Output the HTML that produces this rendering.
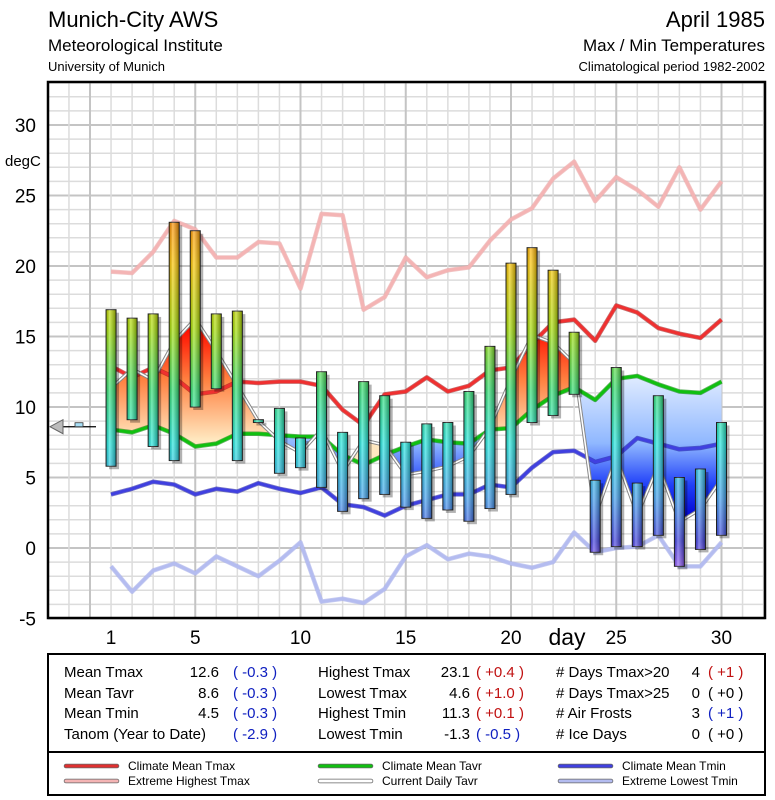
<!DOCTYPE html>
<html><head><meta charset="utf-8"><style>
html,body{margin:0;padding:0;background:#fff;}
svg{display:block;font-family:"Liberation Sans",sans-serif;}
</style></head><body>
<svg id="chart" width="775" height="800" viewBox="0 0 775 800" xmlns="http://www.w3.org/2000/svg">
<defs>
<linearGradient id="barGrad" gradientUnits="userSpaceOnUse" x1="0" y1="210" x2="0" y2="570">
<stop offset="0" stop-color="#ff8000"/>
<stop offset="0.15" stop-color="#ffc800"/>
<stop offset="0.33" stop-color="#a8e000"/>
<stop offset="0.5" stop-color="#30e070"/>
<stop offset="0.65" stop-color="#20e8e0"/>
<stop offset="0.8" stop-color="#40a0f0"/>
<stop offset="0.92" stop-color="#4040e0"/>
<stop offset="1" stop-color="#a060ff"/>
</linearGradient>
<linearGradient id="barShade" x1="0" y1="0" x2="1" y2="0">
<stop offset="0" stop-color="#000" stop-opacity="0.15"/>
<stop offset="0.35" stop-color="#fff" stop-opacity="0.35"/>
<stop offset="1" stop-color="#000" stop-opacity="0.35"/>
</linearGradient>
<linearGradient id="warmGrad" gradientUnits="userSpaceOnUse" x1="0" y1="330" x2="0" y2="440">
<stop offset="0" stop-color="#ff1000"/>
<stop offset="0.45" stop-color="#ff8040"/>
<stop offset="1" stop-color="#ffe8c0"/>
</linearGradient>
<linearGradient id="coldGrad" gradientUnits="userSpaceOnUse" x1="0" y1="380" x2="0" y2="520">
<stop offset="0" stop-color="#dce9ff"/>
<stop offset="0.45" stop-color="#90b8ff"/>
<stop offset="0.75" stop-color="#2040f8"/>
<stop offset="1" stop-color="#0000d0"/>
</linearGradient>
<clipPath id="plotClip"><rect x="48" y="82" width="717" height="536"/></clipPath>
</defs>
<g id="header">
<text x="48" y="27" font-size="22">Munich-City AWS</text>
<text x="48" y="51" font-size="17">Meteorological Institute</text>
<text x="48" y="71" font-size="13">University of Munich</text>
<text x="765" y="27" font-size="22" text-anchor="end">April 1985</text>
<text x="765" y="51" font-size="17" text-anchor="end">Max / Min Temperatures</text>
<text x="765" y="71" font-size="13" text-anchor="end">Climatological period 1982-2002</text>
</g>
<g id="grid"></g>
<g id="areas" clip-path="url(#plotClip)"></g>
<g id="lines" clip-path="url(#plotClip)"></g>
<g id="bars"></g>
<rect x="48" y="82" width="717" height="536" fill="none" stroke="#000" stroke-width="2.5"/>
<g id="axes"></g>
<g id="stats">
<rect x="48" y="654" width="717" height="141" fill="#fff" stroke="#000" stroke-width="2"/>
<line x1="48" y1="752" x2="765" y2="752" stroke="#000" stroke-width="2"/>
</g>
</svg>
<script>
const days=[1,2,3,4,5,6,7,8,9,10,11,12,13,14,15,16,17,18,19,20,21,22,23,24,25,26,27,28,29,30];
const tmax=[16.9,16.3,16.6,23.1,22.5,16.6,16.8,9.1,9.9,7.8,12.5,8.2,11.8,10.8,7.5,8.8,8.9,11.1,14.3,20.2,21.3,19.7,15.3,4.8,12.8,4.6,10.8,5.0,5.6,8.9];
const tmin=[5.8,9.1,7.2,6.2,10.0,11.3,6.2,8.9,5.3,5.7,4.3,2.6,3.5,3.8,2.9,2.1,2.7,1.9,2.8,3.8,8.9,9.4,10.9,-0.3,0.1,0.1,0.9,-1.3,-0.1,0.9];
const climTmax=[12.9,12.1,12.8,12.1,10.9,11.1,11.8,11.7,11.8,11.8,11.5,9.8,8.7,10.9,11.1,12.1,11.1,11.5,12.6,12.8,14.5,16.0,16.2,14.7,17.2,16.7,15.6,15.2,14.9,16.2];
const climTavr=[8.4,8.2,8.7,8.1,7.2,7.4,8.1,8.1,8.0,7.9,7.9,6.6,5.9,6.6,7.2,7.7,7.5,7.4,8.4,8.5,9.8,10.8,11.4,10.5,12.0,12.2,11.6,11.1,11.0,11.8];
const climTmin=[3.8,4.2,4.7,4.5,3.8,4.2,4.0,4.6,4.2,3.9,4.3,3.1,2.9,2.3,3.0,3.4,3.8,3.8,4.5,4.3,5.7,6.8,6.9,6.1,6.5,7.8,7.4,7.0,7.1,7.4];
const extHigh=[19.6,19.5,21.0,23.2,22.6,20.6,20.6,21.7,21.6,18.4,23.7,23.6,16.9,17.8,20.6,19.2,19.7,19.9,21.8,23.3,24.1,26.2,27.4,24.6,26.3,25.4,24.2,27.0,24.0,26.0];
const extLow=[-1.3,-3.1,-1.6,-1.1,-1.8,-0.6,-1.3,-2.0,-0.9,0.4,-3.8,-3.6,-3.9,-2.9,-0.6,0.2,-0.8,-0.4,-0.6,-1.1,-1.4,-1.0,1.1,-0.3,0.0,0.1,0.9,-1.3,-1.3,0.4];
const yTicks=[-5,0,5,10,15,20,25,30];
const xTicks=[1,5,10,15,20,25,30];
const meanTavr=8.6;

const NS="http://www.w3.org/2000/svg";
const X=d=>90+21.05*d;
const Y=t=>548-14.1*t;
function mk(tag,attrs,parent){const e=document.createElementNS(NS,tag);for(const k in attrs)e.setAttribute(k,attrs[k]);parent.appendChild(e);return e;}
const grid=document.getElementById('grid');
for(let t=-5;t<=33;t++){const l=mk('line',{x1:48,x2:765,y1:Y(t),y2:Y(t),stroke:t%5===0?'#c4c4c4':'#dcdcdc','stroke-width':t%5===0?2:1.5},grid);

}
for(let d=-2;d<=32;d++){const x=X(d);if(x<48||x>765)continue;const l=mk('line',{x1:x,x2:x,y1:82,y2:618,stroke:d%5===0?'#c4c4c4':'#dcdcdc','stroke-width':d%5===0?2:1.5},grid);

}

const tavr=tmax.map((v,i)=>(v+tmin[i])/2);
const pts=arr=>arr.map((v,i)=>X(days[i])+','+Y(v)).join(' ');
const areas=document.getElementById('areas');
const defs=document.querySelector('defs');
const x0=X(days[0]),x1=X(days[days.length-1]);
const cpA=mk('clipPath',{id:'aboveClim'},defs);
mk('polygon',{points:x0+',0 '+pts(climTavr)+' '+x1+',0'},cpA);
const cpB=mk('clipPath',{id:'belowClim'},defs);
mk('polygon',{points:x0+',800 '+pts(climTavr)+' '+x1+',800'},cpB);
const warm=mk('polygon',{points:x0+',800 '+pts(tavr)+' '+x1+',800',fill:'url(#warmGrad)','clip-path':'url(#aboveClim)'},areas);


const cold=mk('polygon',{points:x0+',0 '+pts(tavr)+' '+x1+',0',fill:'url(#coldGrad)','clip-path':'url(#belowClim)'},areas);



const lines=document.getElementById('lines');
function series(arr,col,outline,name,w){
 if(outline){mk('polyline',{points:pts(arr),fill:'none',stroke:outline,'stroke-width':w+1.5,'stroke-linejoin':'round','stroke-opacity':0.6},lines);}
 const p=mk('polyline',{points:pts(arr),fill:'none',stroke:col,'stroke-width':w,'stroke-linejoin':'round'},lines);
 
 
}
series(extHigh,'#f4b4b4','#e8a0a0','extreme-highest-tmax-line',3);
series(extLow,'#b4bcf0','#a0a8e8','extreme-lowest-tmin-line',3);
series(climTmin,'#4040e0','#2020a0','climate-mean-tmin-line',3);
series(climTavr,'#10c010','#008000','climate-mean-tavr-line',3);
series(climTmax,'#f03030','#a01010','climate-mean-tmax-line',3);
mk('polyline',{points:pts(tavr),fill:'none',stroke:'#888','stroke-width':3.5,'stroke-linejoin':'round'},lines);
const ct=mk('polyline',{points:pts(tavr),fill:'none',stroke:'#fff','stroke-width':1.5,'stroke-linejoin':'round'},lines);



const bars=document.getElementById('bars');
days.forEach((d,i)=>{
 const x=X(d)-5,yt=Y(tmax[i]),yb=Y(tmin[i]),h=Math.max(yb-yt,2);
 mk('rect',{x:x+3,y:yt+3,width:10,height:h,fill:'#000',opacity:0.3},bars);
 const r=mk('rect',{x:x,y:yt,width:10,height:h,fill:'url(#barGrad)',stroke:'#222','stroke-width':1},bars);
 
 
 mk('rect',{x:x,y:yt,width:10,height:h,fill:'url(#barShade)'},bars);
});

const axes=document.getElementById('axes');
yTicks.forEach(t=>{const e=mk('text',{x:36,y:Y(t)+7,'font-size':19,'text-anchor':'end'},axes);e.textContent=t;

});
xTicks.forEach(d=>{const e=mk('text',{x:X(d),y:644,'font-size':19,'text-anchor':'middle'},axes);e.textContent=d;

});
const yt=mk('text',{x:5,y:166,'font-size':15},axes);yt.textContent='degC';


const xt=mk('text',{x:567,y:645,'font-size':23,'text-anchor':'middle'},axes);xt.textContent='day';


const ma=mk('g',{},axes);


mk('line',{x1:62,x2:96,y1:Y(meanTavr),y2:Y(meanTavr),stroke:'#000','stroke-width':1.2},ma);
mk('polygon',{points:`50,${Y(meanTavr)} 63,${Y(meanTavr)-7} 63,${Y(meanTavr)+7}`,fill:'#bbb',stroke:'#666'},ma);
mk('rect',{x:75,y:Y(meanTavr)-4,width:8,height:4,fill:'#a8e0f8',stroke:'#333','stroke-width':0.8},ma);

const stats=document.getElementById('stats');
function txt(x,y,s,opt){const e=mk('text',Object.assign({x:x,y:y,'font-size':15},opt||{}),stats);e.textContent=s;

return e;}
const rows=[677,698,718,739];
const red='#c01010',blue='#1020c0';
const c1=[['Mean Tmax','12.6','( -0.3 )',blue],['Mean Tavr','8.6','( -0.3 )',blue],['Mean Tmin','4.5','( -0.3 )',blue],['Tanom (Year to Date)','','( -2.9 )',blue]];
const c2=[['Highest Tmax','23.1','( +0.4 )',red],['Lowest Tmax','4.6','( +1.0 )',red],['Highest Tmin','11.3','( +0.1 )',red],['Lowest Tmin','-1.3','( -0.5 )',blue]];
const c3=[['# Days Tmax>20','4','( +1 )',red],['# Days Tmax>25','0','( +0 )','#000'],['# Air Frosts','3','( +1 )',blue],['# Ice Days','0','( +0 )','#000']];
rows.forEach((y,i)=>{
 txt(64,y,c1[i][0]);txt(219,y,c1[i][1],{'text-anchor':'end'});txt(233,y,c1[i][2],{fill:c1[i][3]});
 txt(318,y,c2[i][0]);txt(470,y,c2[i][1],{'text-anchor':'end'});txt(476,y,c2[i][2],{fill:c2[i][3]});
 txt(556,y,c3[i][0]);txt(700,y,c3[i][1],{'text-anchor':'end'});txt(708,y,c3[i][2],{fill:c3[i][3]});
});
const leg=[[66,770,'#e03030','Climate Mean Tmax'],[66,785,'#f4b4b4','Extreme Highest Tmax'],[320,770,'#10c010','Climate Mean Tavr'],[320,785,'#fff','Current Daily Tavr'],[560,770,'#4040e0','Climate Mean Tmin'],[560,785,'#b4bcf0','Extreme Lowest Tmin']];
leg.forEach(l=>{
 const g=mk('g',{},stats);
 
 
 mk('line',{x1:l[0],x2:l[0]+51,y1:l[1]-4,y2:l[1]-4,stroke:'#666','stroke-width':4.5,'stroke-linecap':'round'},g);
 mk('line',{x1:l[0],x2:l[0]+51,y1:l[1]-4,y2:l[1]-4,stroke:l[2],'stroke-width':3,'stroke-linecap':'round'},g);
 const t=mk('text',{x:l[0]+62,y:l[1],'font-size':12},g);t.textContent=l[3];
});
</script>
</body></html>
